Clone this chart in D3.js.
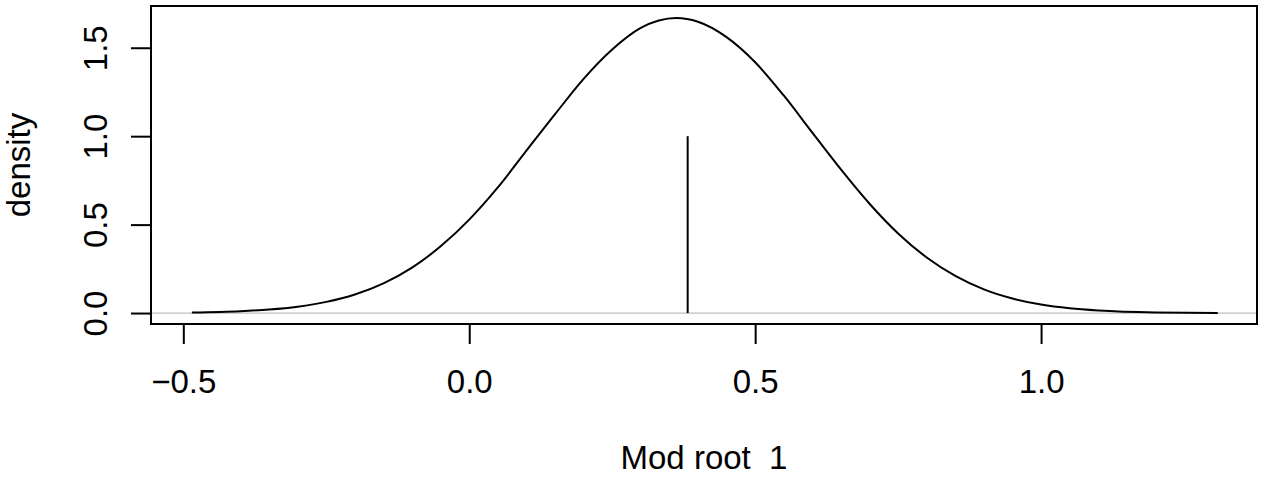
<!DOCTYPE html>
<html>
<head>
<meta charset="utf-8">
<script src="https://cdn.jsdelivr.net/npm/d3@7"></script>
<style>
  html, body { margin: 0; padding: 0; background: #ffffff; }
  svg text { font-family: "Liberation Sans", Arial, Helvetica, sans-serif; fill: #000; }
</style>
</head>
<body>
<svg id="chart" width="1266" height="477"></svg>
<script>
// ---- data ----
const curveX = [-0.485, -0.40, -0.35, -0.30, -0.25, -0.20, -0.15, -0.10, -0.05, 0.00, 0.05, 0.10, 0.15, 0.20, 0.25, 0.30, 0.362, 0.40, 0.45, 0.50, 0.55, 0.60, 0.65, 0.70, 0.75, 0.80, 0.85, 0.90, 0.95, 1.00, 1.05, 1.10, 1.20, 1.309];
const curveY = [0.003, 0.0105, 0.020, 0.036, 0.063, 0.105, 0.168, 0.257, 0.377, 0.528, 0.710, 0.918, 1.124, 1.324, 1.490, 1.612, 1.668, 1.647, 1.560, 1.418, 1.230, 1.020, 0.812, 0.618, 0.450, 0.314, 0.210, 0.134, 0.082, 0.048, 0.027, 0.0146, 0.0037, 0.0008];
const markX = [0.382];          // vertical segment position
const markHeight = [1.0];       // vertical segment height
const xTicks = [-0.5, 0.0, 0.5, 1.0];
const xTickLabels = ["\u22120.5", "0.0", "0.5", "1.0"];
const yTicks = [0.0, 0.5, 1.0, 1.5];
const yTickLabels = ["0.0", "0.5", "1.0", "1.5"];
const xTitle = "Mod root  1";
const yTitle = "density";
const xDomain = [-0.5565, 1.3776];
const yDomain = [-0.062, 1.736];

// ---- layout ----
const plotLeft = 151, plotRight = 1257, plotTop = 6, plotBottom = 324;
const fontSize = 33;
const tickLen = 20;

const svg = d3.select("#chart");
const x = d3.scaleLinear().domain(xDomain).range([plotLeft, plotRight]);
const y = d3.scaleLinear().domain(yDomain).range([plotBottom, plotTop]);

// zero reference line (gray), clipped to plot region
svg.append("line")
  .attr("x1", plotLeft).attr("x2", plotRight)
  .attr("y1", y(0)).attr("y2", y(0))
  .attr("stroke", "#bebebe").attr("stroke-width", 1.2);

// density curve
const pts = curveX.map((v, i) => [v, curveY[i]]);
svg.append("path")
  .datum(pts)
  .attr("fill", "none")
  .attr("stroke", "#000")
  .attr("stroke-width", 2)
  .attr("stroke-linejoin", "round")
  .attr("d", d3.line().x(d => x(d[0])).y(d => y(d[1])).curve(d3.curveMonotoneX));

// vertical segment
svg.selectAll("line.mark")
  .data(markX)
  .enter().append("line")
  .attr("class", "mark")
  .attr("x1", d => x(d)).attr("x2", d => x(d))
  .attr("y1", y(0)).attr("y2", (d, i) => y(markHeight[i]))
  .attr("stroke", "#000").attr("stroke-width", 2);

// box
svg.append("rect")
  .attr("x", plotLeft).attr("y", plotTop)
  .attr("width", plotRight - plotLeft).attr("height", plotBottom - plotTop)
  .attr("fill", "none").attr("stroke", "#000").attr("stroke-width", 2);

// x axis (ticks + labels)
const xAxis = d3.axisBottom(x).tickValues(xTicks).tickSize(tickLen)
  .tickFormat((d, i) => xTickLabels[i]);
const gx = svg.append("g").attr("transform", `translate(0,${plotBottom})`).call(xAxis);
gx.select(".domain").attr("d", `M${x(xTicks[0])},0H${x(xTicks[xTicks.length-1])}`)
  .attr("stroke", "#000").attr("stroke-width", 2);
gx.selectAll(".tick line").attr("stroke", "#000").attr("stroke-width", 2);
gx.selectAll(".tick text")
  .attr("y", 69).attr("dy", null)
  .style("font-size", fontSize + "px")
  .style("font-family", "'Liberation Sans', Arial, sans-serif")
  .attr("fill", "#000");

// y axis (ticks + rotated labels)
const yAxis = d3.axisLeft(y).tickValues(yTicks).tickSize(tickLen)
  .tickFormat((d, i) => yTickLabels[i]);
const gy = svg.append("g").attr("transform", `translate(${plotLeft},0)`).call(yAxis);
gy.select(".domain").attr("d", `M0,${y(yTicks[0])}V${y(yTicks[yTicks.length-1])}`)
  .attr("stroke", "#000").attr("stroke-width", 2);
gy.selectAll(".tick line").attr("stroke", "#000").attr("stroke-width", 2);
gy.selectAll(".tick text")
  .attr("x", null).attr("dy", null)
  .attr("text-anchor", "middle")
  .attr("transform", "translate(-44,0) rotate(-90)")
  .style("font-size", fontSize + "px")
  .style("font-family", "'Liberation Sans', Arial, sans-serif")
  .attr("fill", "#000");

// axis titles
svg.append("text")
  .attr("x", (plotLeft + plotRight) / 2)
  .attr("y", 469)
  .attr("text-anchor", "middle")
  .style("font-size", fontSize + "px")
  .style("white-space", "pre")
  .attr("xml:space", "preserve")
  .text(xTitle);

svg.append("text")
  .attr("transform", `translate(30,${(plotTop + plotBottom) / 2}) rotate(-90)`)
  .attr("text-anchor", "middle")
  .style("font-size", fontSize + "px")
  .text(yTitle);
</script>
</body>
</html>
